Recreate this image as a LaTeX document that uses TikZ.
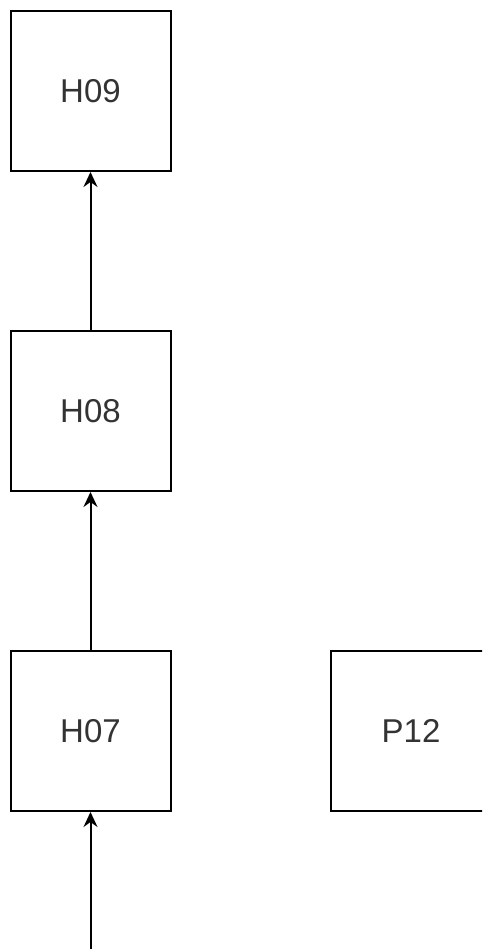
\documentclass[tikz,border=0pt]{standalone}
\usepackage{fontspec}
\setmainfont{Liberation Sans}
\usetikzlibrary{arrows.meta}
\begin{document}
\begin{tikzpicture}[x=1pt,y=-1pt,
  blk/.style={draw=black,line width=2pt,fill=white,minimum width=160pt,minimum height=160pt,inner sep=0pt,font=\fontsize{33}{40}\selectfont,text=black!80},
  conn/.style={draw=black,line width=2pt,-{Stealth[length=15pt,width=14pt,inset=5pt]}}]
\useasboundingbox (0,0) rectangle (482,949);
\clip (0,0) rectangle (482,949);
\fill[white] (0,0) rectangle (482,949);
\node[blk] (h09) at (90.5,91) {H09};
\node[blk] (h08) at (90.5,411) {H08};
\node[blk] (h07) at (90.5,731) {H07};
\node[blk] (p12) at (411,731) {P12};
\coordinate (src) at (90.5,949);
\draw[conn] (src) -- (h07.south);
\draw[conn] (h07.north) -- (h08.south);
\draw[conn] (h08.north) -- (h09.south);
\end{tikzpicture}
\end{document}
